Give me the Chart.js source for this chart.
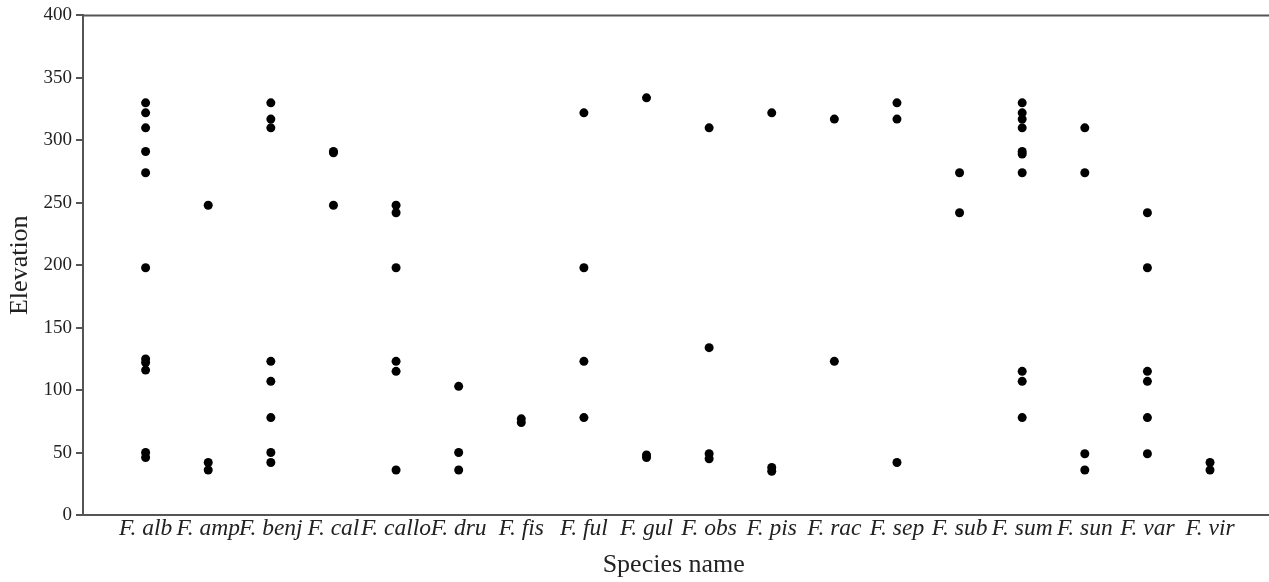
<!DOCTYPE html>
<html>
<head>
<meta charset="utf-8">
<script src="https://cdn.jsdelivr.net/npm/chart.js@4"></script>
<style>
  html, body { margin: 0; padding: 0; background: #fff; overflow: hidden; }
  #wrap { width: 1269px; height: 582px; position: relative; }
</style>
</head>
<body>
<div id="wrap"><canvas id="chart"></canvas></div>
<script>
// species on the x axis, one slot each
const species = ['F. alb', 'F. amp', 'F. benj', 'F. cal', 'F. callo', 'F. dru', 'F. fis', 'F. ful', 'F. gul',
  'F. obs', 'F. pis', 'F. rac', 'F. sep', 'F. sub', 'F. sum', 'F. sun', 'F. var', 'F. vir'];

// elevation records per species
const alb = [330, 322, 310, 291, 274, 198, 125, 122, 116, 50, 46];
const amp = [248, 42, 36];
const benj = [330, 317, 310, 123, 107, 78, 50, 42];
const cal = [291, 290, 248];
const callo = [248, 242, 198, 123, 115, 36];
const dru = [103, 50, 36];
const fis = [77, 74];
const ful = [322, 198, 123, 78];
const gul = [334, 48, 46];
const obs = [310, 134, 49, 45];
const pis = [322, 38, 35];
const rac = [317, 123];
const sep = [330, 317, 42];
const sub = [274, 242];
const sum = [330, 322, 317, 310, 291, 289, 274, 115, 107, 78];
const sun = [310, 274, 49, 36];
const vari = [242, 198, 115, 107, 78, 49];
const vir = [42, 36];

const elevations = [alb, amp, benj, cal, callo, dru, fis, ful, gul, obs, pis, rac, sep, sub, sum, sun, vari, vir];

const yTicks = [0, 50, 100, 150, 200, 250, 300, 350, 400];

const points = [];
elevations.forEach((vals, i) => {
  vals.forEach(v => points.push({ x: i + 1, y: v }));
});

// top frame line + carry both frame lines to the cropped right edge
const frame = {
  id: 'frame',
  afterDraw(chart) {
    const { ctx, chartArea } = chart;
    ctx.save();
    ctx.strokeStyle = '#555';
    ctx.lineWidth = 2;
    ctx.beginPath();
    ctx.moveTo(chartArea.left - 1, chartArea.top);
    ctx.lineTo(chart.width, chartArea.top);
    ctx.moveTo(chartArea.right - 2, chartArea.bottom);
    ctx.lineTo(chart.width, chartArea.bottom);
    ctx.stroke();
    ctx.restore();
  }
};

const serif = "'Liberation Serif', 'Times New Roman', serif";

new Chart(document.getElementById('chart'), {
  type: 'scatter',
  data: {
    datasets: [{
      data: points,
      backgroundColor: '#000',
      borderColor: '#000',
      pointRadius: 4.5,
      pointBorderWidth: 0,
    }]
  },
  options: {
    responsive: true,
    maintainAspectRatio: false,
    animation: false,
    layout: { padding: { top: 14, right: 0, left: 0, bottom: 0 } },
    plugins: {
      legend: { display: false },
      tooltip: { enabled: false },
    },
    scales: {
      x: {
        type: 'linear',
        min: 0,
        max: 18.87,
        afterBuildTicks: (scale) => {
          scale.ticks = species.map((_, i) => ({ value: i + 1 }));
        },
        afterFit: (scale) => { scale.height = 67; },
        grid: { drawOnChartArea: false, drawTicks: false, color: 'rgba(0,0,0,0)' },
        border: { display: true, color: '#555', width: 2 },
        ticks: {
          autoSkip: false,
          maxRotation: 0,
          minRotation: 0,
          padding: 0,
          color: '#222',
          font: { family: serif, size: 23.5, style: 'italic' },
          callback: (v) => species[v - 1] || '',
        },
        title: {
          display: true,
          text: 'Species name',
          color: '#222',
          font: { family: serif, size: 26 },
          padding: { top: 0, bottom: 1 },
        }
      },
      y: {
        min: 0,
        max: 400,
        afterBuildTicks: (scale) => {
          scale.ticks = yTicks.map(v => ({ value: v }));
        },
        afterFit: (scale) => { scale.width = 83; },
        grid: { drawOnChartArea: false, drawTicks: true, tickLength: 7, color: '#555', lineWidth: 2 },
        border: { display: true, color: '#555', width: 2 },
        ticks: {
          padding: 4,
          color: '#222',
          font: { family: serif, size: 19 },
        },
        title: {
          display: true,
          text: 'Elevation',
          color: '#222',
          font: { family: serif, size: 26 },
          padding: { top: 5, bottom: 0 },
        }
      }
    }
  },
  plugins: [frame]
});
</script>
</body>
</html>
